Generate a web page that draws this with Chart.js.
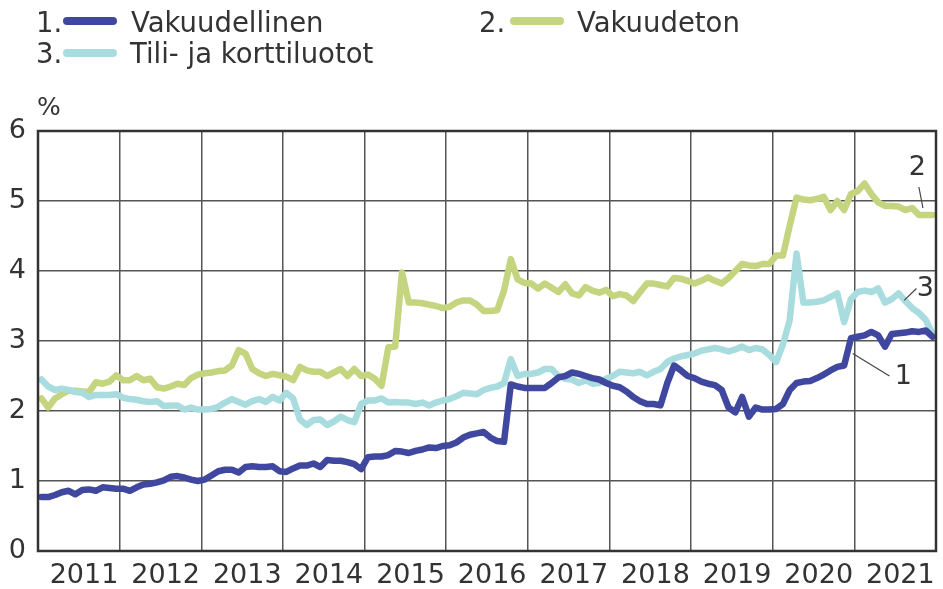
<!DOCTYPE html>
<html>
<head>
<meta charset="utf-8">
<script src="https://cdn.jsdelivr.net/npm/chart.js@4"></script>
<style>
  html, body { margin: 0; padding: 0; background: #fff; }
  #wrap { position: relative; width: 943px; height: 589px; font-family: "DejaVu Sans", sans-serif; color: #333; }
  #c { position: absolute; left: 0; top: 0; }
  .lg { position: absolute; font-size: 27.5px; line-height: 30px; white-space: nowrap; color: #333; }
  .sw { position: absolute; width: 54px; height: 8px; border-radius: 4px; }
  #pct { position: absolute; left: 37px; top: 93px; font-size: 25px; line-height: 28px; color: #333; }
</style>
</head>
<body>
<div id="wrap">
  <canvas id="c" width="943" height="589"></canvas>
  <div class="lg" style="left:36px;top:7px;">1.</div>
  <div class="sw" style="left:63px;top:17px;background:#3f479f;"></div>
  <div class="lg" style="left:131px;top:7px;">Vakuudellinen</div>
  <div class="lg" style="left:479px;top:7px;">2.</div>
  <div class="sw" style="left:510px;top:17px;background:#c4d47f;"></div>
  <div class="lg" style="left:577px;top:7px;">Vakuudeton</div>
  <div class="lg" style="left:36px;top:38px;">3.</div>
  <div class="sw" style="left:63px;top:49px;background:#a8dcdf;"></div>
  <div class="lg" style="left:130px;top:38px;">Tili- ja korttiluotot</div>
  <div id="pct">%</div>
</div>
<script>
// ---- Data (monthly, Jan 2011 – Dec 2021), percent ----
const years = [2011, 2012, 2013, 2014, 2015, 2016, 2017, 2018, 2019, 2020, 2021];

const vakuudellinen = [
  0.77,0.77,0.80,0.84,0.86,0.81,0.87,0.88,0.86,0.91,0.90,0.89,
  0.89,0.86,0.91,0.95,0.96,0.98,1.01,1.06,1.07,1.05,1.02,1.00,
  1.02,1.08,1.14,1.16,1.16,1.12,1.20,1.21,1.20,1.20,1.21,1.14,
  1.13,1.18,1.22,1.22,1.25,1.20,1.30,1.29,1.29,1.27,1.24,1.17,
  1.34,1.35,1.35,1.37,1.43,1.42,1.40,1.43,1.45,1.48,1.47,1.50,
  1.51,1.55,1.62,1.66,1.68,1.70,1.62,1.57,1.56,2.38,2.35,2.33,
  2.33,2.33,2.33,2.40,2.48,2.50,2.55,2.53,2.50,2.47,2.45,2.40,
  2.36,2.34,2.28,2.20,2.14,2.10,2.10,2.08,2.40,2.65,2.58,2.50,
  2.47,2.42,2.39,2.37,2.30,2.05,1.98,2.20,1.92,2.05,2.02,2.02,
  2.03,2.10,2.30,2.40,2.42,2.43,2.47,2.52,2.58,2.63,2.65,3.04,
  3.06,3.08,3.13,3.08,2.92,3.10,3.11,3.12,3.14,3.13,3.15,3.06
];

const vakuudeton = [
  2.18,2.05,2.18,2.24,2.29,2.29,2.28,2.27,2.41,2.39,2.42,2.51,
  2.44,2.44,2.50,2.44,2.46,2.34,2.32,2.35,2.39,2.37,2.47,2.52,
  2.54,2.55,2.57,2.58,2.65,2.87,2.82,2.60,2.54,2.50,2.53,2.51,
  2.49,2.44,2.63,2.58,2.56,2.56,2.50,2.55,2.60,2.50,2.60,2.50,
  2.52,2.46,2.36,2.91,2.92,3.98,3.55,3.55,3.54,3.52,3.50,3.47,
  3.49,3.55,3.58,3.58,3.52,3.43,3.43,3.44,3.72,4.17,3.88,3.83,
  3.82,3.75,3.82,3.76,3.70,3.81,3.68,3.65,3.77,3.72,3.69,3.73,
  3.64,3.67,3.65,3.57,3.70,3.82,3.82,3.80,3.78,3.90,3.89,3.86,
  3.82,3.86,3.91,3.86,3.82,3.90,4.00,4.10,4.08,4.07,4.10,4.10,
  4.22,4.22,4.65,5.05,5.02,5.01,5.03,5.06,4.87,5.00,4.87,5.10,
  5.14,5.25,5.10,4.98,4.93,4.93,4.92,4.87,4.90,4.80,4.80,4.80
];

const tiliJaKorttiluotot = [
  2.45,2.35,2.30,2.32,2.30,2.27,2.26,2.20,2.23,2.23,2.23,2.24,
  2.19,2.17,2.16,2.14,2.13,2.14,2.07,2.08,2.08,2.02,2.05,2.02,
  2.02,2.03,2.06,2.12,2.17,2.13,2.09,2.14,2.17,2.13,2.20,2.15,
  2.26,2.18,1.88,1.80,1.87,1.88,1.80,1.85,1.92,1.87,1.84,2.10,
  2.15,2.15,2.18,2.12,2.13,2.12,2.12,2.10,2.12,2.08,2.12,2.15,
  2.17,2.21,2.26,2.25,2.24,2.30,2.33,2.35,2.40,2.74,2.50,2.53,
  2.53,2.55,2.60,2.60,2.50,2.46,2.45,2.40,2.44,2.39,2.40,2.46,
  2.50,2.56,2.55,2.54,2.56,2.51,2.56,2.60,2.70,2.75,2.78,2.80,
  2.82,2.86,2.88,2.90,2.88,2.85,2.88,2.92,2.87,2.90,2.88,2.80,
  2.70,2.95,3.30,4.25,3.55,3.55,3.56,3.58,3.63,3.68,3.27,3.60,
  3.70,3.72,3.70,3.75,3.55,3.60,3.68,3.57,3.47,3.40,3.30,3.10
];

const yTicks = [0, 1, 2, 3, 4, 5, 6];

// Series end labels, in data units: [text, labelX, labelY, leaderFromX, leaderFromY, leaderToX, leaderToY]
const seriesLabels = [
  ["2", 2021.77, 5.47, 2021.79, 5.20, 2021.84, 4.90],
  ["3", 2021.87, 3.75, 2021.61, 3.58, 2021.76, 3.75],
  ["1", 2021.60, 2.48, 2020.98, 2.82, 2021.43, 2.50]
];

// ---- Build points: monthly values plotted at mid-month ----
function toPoints(arr) {
  return arr.map((v, i) => ({ x: years[0] + (i + 0.5) / 12, y: v }));
}

const TEXT = '#333333';
const GRID = '#555555';

const framePlugin = {
  id: 'frame',
  afterDraw(chart) {
    const { ctx, chartArea: a, scales } = chart;
    ctx.save();
    ctx.strokeStyle = '#333';
    ctx.lineWidth = 2.5;
    ctx.strokeRect(a.left, a.top, a.right - a.left, a.bottom - a.top);
    ctx.font = '27px "DejaVu Sans"';
    ctx.fillStyle = TEXT;
    ctx.textAlign = 'center';
    ctx.textBaseline = 'middle';
    ctx.lineWidth = 1.2;
    ctx.strokeStyle = '#444';
    for (const [t, lx, ly, fx, fy, tx, ty] of seriesLabels) {
      ctx.fillText(t, scales.x.getPixelForValue(lx), scales.y.getPixelForValue(ly));
      ctx.beginPath();
      ctx.moveTo(scales.x.getPixelForValue(fx), scales.y.getPixelForValue(fy));
      ctx.lineTo(scales.x.getPixelForValue(tx), scales.y.getPixelForValue(ty));
      ctx.stroke();
    }
    ctx.restore();
  }
};

const lineStyle = { borderWidth: 6.5, pointRadius: 0, tension: 0, borderJoinStyle: 'round', borderCapStyle: 'round' };

new Chart(document.getElementById('c'), {
  type: 'line',
  data: {
    datasets: [
      Object.assign({ label: 'Vakuudellinen', data: toPoints(vakuudellinen), borderColor: '#3f479f' }, lineStyle),
      Object.assign({ label: 'Tili- ja korttiluotot', data: toPoints(tiliJaKorttiluotot), borderColor: '#a8dcdf' }, lineStyle),
      Object.assign({ label: 'Vakuudeton', data: toPoints(vakuudeton), borderColor: '#c4d47f' }, lineStyle)
    ]
  },
  options: {
    responsive: false,
    animation: false,
    devicePixelRatio: 1,
    layout: { padding: { top: 131, right: 7, left: 0, bottom: 0 } },
    plugins: { legend: { display: false }, tooltip: { enabled: false } },
    scales: {
      x: {
        type: 'linear',
        min: years[0],
        max: years[years.length - 1] + 1,
        afterBuildTicks(scale) {
          scale.ticks = years.concat([years[years.length - 1] + 1]).map(v => ({ value: v }));
        },
        afterFit(scale) { scale.height = 38; scale.paddingLeft = 0; scale.paddingRight = 0; },
        grid: { color: GRID, lineWidth: 1.5, drawTicks: false },
        border: { display: false },
        ticks: {
          autoSkip: false,
          maxRotation: 0,
          padding: 9,
          labelOffset: 46,
          color: TEXT,
          font: { family: 'DejaVu Sans', size: 27 },
          callback: (v) => (years.includes(v) ? String(v) : '')
        }
      },
      y: {
        min: yTicks[0],
        max: yTicks[yTicks.length - 1],
        afterBuildTicks(scale) { scale.ticks = yTicks.map(v => ({ value: v })); },
        afterFit(scale) { scale.width = 38; scale.paddingTop = 0; scale.paddingBottom = 0; },
        grid: { color: GRID, lineWidth: 1.5, drawTicks: false },
        border: { display: false },
        ticks: {
          padding: 12,
          color: TEXT,
          font: { family: 'DejaVu Sans', size: 27 }
        }
      }
    }
  },
  plugins: [framePlugin]
});
</script>
</body>
</html>
